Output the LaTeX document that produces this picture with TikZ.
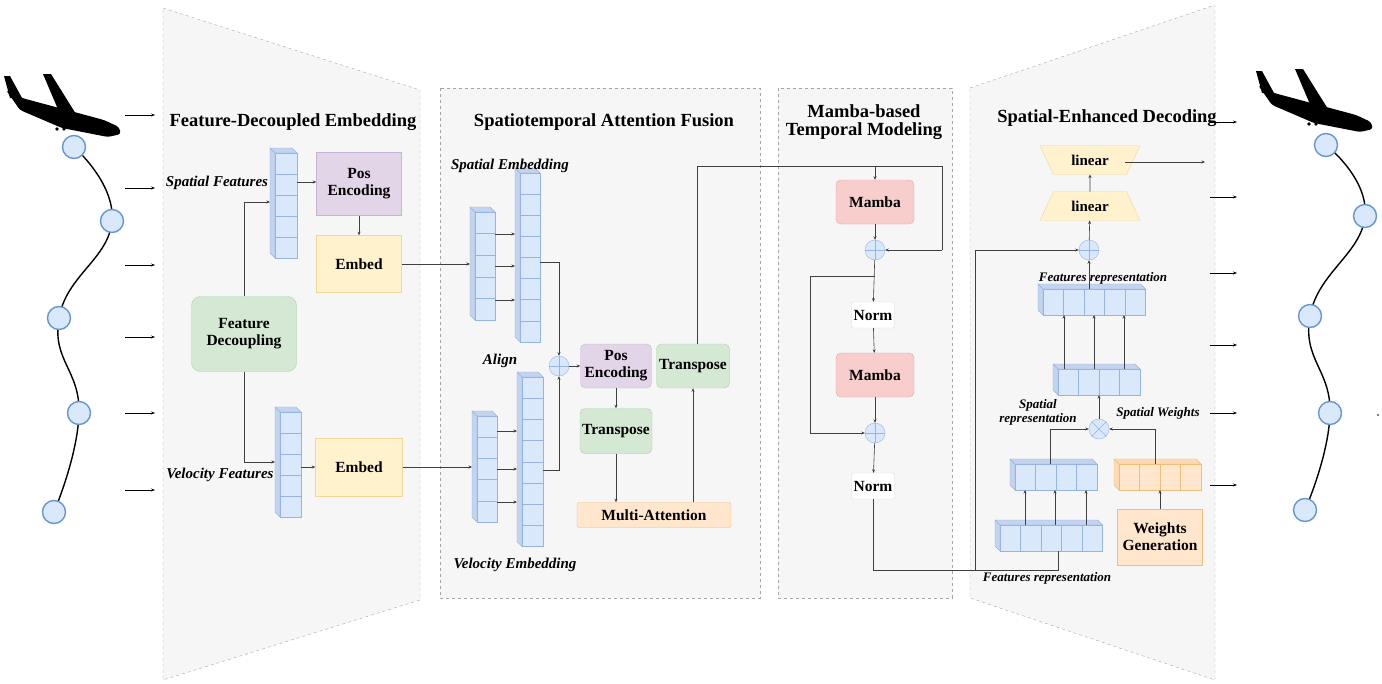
\documentclass[tikz,border=0pt]{standalone}
\usepackage{fontspec}
\setmainfont{Liberation Serif}
\usetikzlibrary{arrows.meta,shapes.geometric}

\definecolor{cellblue}{RGB}{218,232,252}
\definecolor{cellline}{RGB}{150,180,225}
\definecolor{sideblue}{RGB}{195,212,238}
\definecolor{ptline}{RGB}{100,150,210}
\definecolor{boxgreen}{RGB}{213,232,212}
\definecolor{greenline}{RGB}{170,210,160}
\definecolor{boxyellow}{RGB}{255,242,204}
\definecolor{yellowline}{RGB}{240,215,150}
\definecolor{boxpurple}{RGB}{225,213,231}
\definecolor{purpleline}{RGB}{200,180,215}
\definecolor{boxred}{RGB}{248,206,204}
\definecolor{redline}{RGB}{230,160,160}
\definecolor{boxorange}{RGB}{255,230,204}
\definecolor{orangeline}{RGB}{240,190,120}

\begin{document}
\begin{tikzpicture}[x=1pt,y=-1pt]

% Styles for the panels, the boxes and the labels
\tikzstyle{panel}=[draw=gray!70, dashed, fill=gray!7]
\tikzstyle{box}=[draw, font=\fontsize{15.5}{17}\selectfont\bfseries, align=center, inner sep=1pt]
\tikzstyle{title}=[font=\fontsize{18.5}{19}\selectfont\bfseries, align=center]
\tikzstyle{lab}=[font=\fontsize{15}{15}\selectfont\bfseries\itshape, align=center]
\tikzstyle{purplebox}=[box, fill=boxpurple, draw=purpleline]
\tikzstyle{yellowbox}=[box, fill=boxyellow, draw=yellowline]
\tikzstyle{greenbox}=[box, fill=boxgreen, draw=greenline, rounded corners=5pt]
\tikzstyle{redbox}=[box, fill=boxred, draw=redline, rounded corners=5pt]
\tikzstyle{normbox}=[box, fill=white, draw=gray!30, rounded corners=2pt]
\tikzstyle{orangebox}=[box, fill=boxorange, draw=orangeline]
\tikzstyle{cell}=[fill=cellblue, draw=cellline]
\tikzstyle{cellside}=[fill=sideblue, draw=cellline]
\tikzstyle{ocell}=[fill=boxorange, draw=orangeline]
\tikzstyle{ocellside}=[fill=orange!30, draw=orangeline]
\tikzstyle{sum}=[circle, minimum size=20pt, inner sep=0pt, fill=cellblue, draw=cellline]
\tikzstyle{point}=[circle, minimum size=23pt, inner sep=0pt, fill=cellblue, draw=ptline, line width=1.4pt]
\tikzstyle{link}=[draw=black!75, line width=0.6pt, -{Stealth[length=3.5pt,width=3pt]}]
\tikzstyle{plain}=[draw=black!75, line width=0.6pt]

\useasboundingbox (0,0) rectangle (1382,683);

% A vertical stack of cells with a side face on the left
% #1, #2 = x, y of the top left corner of the front face
% #3 = number of cells, #4 = height of one cell, #5 = width
\newcommand{\vstack}[5]{
\draw[cellside] (#1,#2) -- ++(-5,-5) -- ++(0,#3*#4) -- ++(5,5) -- cycle;
\draw[cellside] (#1,#2) -- ++(-5,-5) -- ++(#5,0) -- ++(5,5) -- cycle;
\foreach \i in {1,...,#3}
  \draw[cell] (#1,#2+\i*#4-#4) rectangle ++(#5,#4);
}

% A horizontal stack of cells with a side face on the left
% #1, #2 = x, y of the top left corner, #3 = number of cells
% #4 = width of one cell, #5 = height, #6 / #7 = cell and side styles
\newcommand{\hstack}[7]{
\draw[#7] (#1,#2) -- ++(-5,-5) -- ++(0,#5) -- ++(5,5) -- cycle;
\draw[#7] (#1,#2) -- ++(-5,-5) -- ++(#3*#4,0) -- ++(5,5) -- cycle;
\foreach \i in {1,...,#3}
  \draw[#6] (#1+\i*#4-#4,#2) rectangle ++(#4,#5);
}

% A plane silhouette, #1 = shift
\newcommand{\plane}[1]{
\begin{scope}[shift={#1}]
\fill[rounded corners=3pt] (6,90) -- (22,98) -- (104,120) -- (119,127) -- (121,134) -- (108,137) -- (62,128) -- (20,110) -- cycle;
\fill (43,74) -- (51,74) -- (76,114) -- (60,114) -- cycle;
\fill (4,76) -- (10,76) -- (22,98) -- (10,98) -- cycle;
\fill (57,129) circle (1.8) (64,129) circle (1.8);
\end{scope}
}

% Panels
\draw[panel] (163,8) -- (420,90) -- (420,600) -- (163,680) -- cycle;
\draw[panel] (440,88) rectangle (760,598);
\draw[panel] (778,88) rectangle (952,598);
\draw[panel] (970,88) -- (1215,5) -- (1215,680) -- (970,598) -- cycle;

\node[title] (t1) at (293,122) {Feature-Decoupled Embedding};
\node[title] (t2) at (604,122) {Spatiotemporal Attention Fusion};
\node[title] (t3) at (864,122) {Mamba-based\\[-1pt]Temporal Modeling};
\node[title] (t4) at (1107,118) {Spatial-Enhanced Decoding};

% Input trajectory
\plane{(0,0)}
\draw[line width=1.4pt] plot[smooth, tension=0.8] coordinates {(74,147) (112,221) (59,318) (79,413) (54,512)};
\foreach \p/\x/\y in {1/74/147, 2/112/221, 3/59/318, 4/79/413, 5/54/512}
  \node[point] (in\p) at (\x,\y) {};
\foreach \y in {115,188,265,337,413,490}
  \draw[line width=0.7pt, -{Stealth[length=4pt]}] (125,\y) -- (155,\y);

% Output trajectory
\plane{(1252,-5)}
\draw[line width=1.4pt] plot[smooth, tension=0.8] coordinates {(1326,145) (1365,216) (1310,316) (1330,413) (1305,510)};
\foreach \p/\x/\y in {1/1326/145, 2/1365/216, 3/1310/316, 4/1330/413, 5/1305/510}
  \node[point] (out\p) at (\x,\y) {};
\foreach \y in {122,197,273,345,413,485}
  \draw[line width=0.7pt, -{Stealth[length=4pt]}] (1210,\y) -- (1237,\y);
\fill (1378,415) circle (0.8);

% Feature-Decoupled Embedding
\vstack{275}{153}{5}{21}{22}
\vstack{280}{412}{5}{21}{21}
\coordinate (sf) at (270,202);
\coordinate (vf) at (275,462);
\node[lab] (sflab) at (217,183) {Spatial Features};
\node[lab] (vflab) at (220,475) {Velocity Features};
\node[greenbox, minimum width=105pt, minimum height=75pt, rounded corners=9pt] (fd) at (244,334) {Feature\\Decoupling};
\node[purplebox, minimum width=85pt, minimum height=63pt] (pe1) at (359,184) {Pos\\Encoding};
\node[yellowbox, minimum width=85pt, minimum height=57pt] (emb1) at (359,264) {Embed};
\node[yellowbox, minimum width=87pt, minimum height=58pt] (emb2) at (359,467) {Embed};
\draw[link] (fd.north) |- (sf);
\draw[link] (fd.south) |- (vf);
\draw[link] (297,182) -- (pe1.west |- 0,182);
\draw[link] (pe1) -- (emb1);
\draw[link] (301,467) -- (emb2);

% Spatiotemporal Attention Fusion
\vstack{475}{212}{5}{21.6}{20}
\vstack{520}{173}{8}{21.1}{20}
\vstack{477}{416}{5}{21.2}{20}
\vstack{522}{377}{8}{21.2}{21}
\node[lab] (selab) at (510,166) {Spatial Embedding};
\node[lab] (alab) at (500,361) {Align};
\node[lab] (velab) at (515,565) {Velocity Embedding};
\draw[link] (emb1.east) -- (470,264);
\draw[link] (emb2.east) -- (472,467);
\foreach \y in {234,266,300} \draw[link] (495,\y) -- (515,\y);
\foreach \y in {431,469,502} \draw[link] (497,\y) -- (517,\y);
\node[sum] (s0) at (559,366) {};
\draw[cellline] (s0.north) -- (s0.south) (s0.west) -- (s0.east);
\draw[link] (540,262) -| (s0.north);
\draw[link] (543,470) -| (s0.south);
\node[purplebox, rounded corners=5pt, minimum width=71pt, minimum height=44pt] (pe2) at (616,366) {Pos\\Encoding};
\node[greenbox, minimum width=72pt, minimum height=45pt] (tr1) at (616,431) {Transpose};
\node[greenbox, minimum width=73pt, minimum height=44pt] (tr2) at (693,366) {Transpose};
\node[orangebox, rounded corners=2pt, minimum width=154pt, minimum height=25pt] (ma) at (654,515) {Multi-Attention};
\draw[link] (s0) -- (pe2);
\draw[link] (pe2) -- (tr1);
\draw[link] (tr1) -- (tr1.south |- ma.north);
\draw[link] (tr2.south |- ma.north) -- (tr2);

% Mamba-based Temporal Modeling
\node[redbox, minimum width=78pt, minimum height=44pt] (mb1) at (875,202) {Mamba};
\node[sum] (s1) at (875,250) {};
\node[normbox, minimum width=43pt, minimum height=26pt] (n1) at (873,315) {Norm};
\node[redbox, minimum width=78pt, minimum height=44pt] (mb2) at (875,375) {Mamba};
\node[sum] (s2) at (875,433) {};
\node[normbox, minimum width=43pt, minimum height=26pt] (n2) at (873,486) {Norm};
\draw[cellline] (s1.north) -- (s1.south) (s1.west) -- (s1.east);
\draw[cellline] (s2.north) -- (s2.south) (s2.west) -- (s2.east);
\coordinate (top) at (875,166);
\draw[plain] (tr2.north -| 697,0) |- (942,166) |- (942,250);
\draw[link] (942,250) -- (s1.east);
\draw[link] (top) -- (mb1);
\draw[link] (mb1) -- (s1);
\draw[link] (s1) -- (n1);
\draw[link] (n1) -- (mb2);
\draw[link] (mb2) -- (s2);
\draw[link] (s2) -- (n2);
\draw[link] (875,276) -| (810,433) -- (s2.west);

% Spatial-Enhanced Decoding
\node[trapezium, trapezium angle=-65, draw=yellowline, fill=boxyellow, minimum width=100pt, minimum height=28pt, font=\fontsize{15}{16}\selectfont\bfseries] (lin1) at (1090,160) {linear};
\node[trapezium, trapezium angle=65, draw=yellowline, fill=boxyellow, minimum width=100pt, minimum height=28pt, font=\fontsize{15}{16}\selectfont\bfseries] (lin2) at (1090,206) {linear};
\node[sum] (s3) at (1089,250) {};
\draw[cellline] (s3.north) -- (s3.south) (s3.west) -- (s3.east);
\draw[link] (lin2) -- (lin1);
\draw[link] (s3) -- (lin2);
\draw[link] (1125,162) -- (1205,162);

\hstack{1043}{289}{5}{20.5}{26}{cell}{cellside}
\hstack{1058}{369}{4}{20.5}{26}{cell}{cellside}
\hstack{1015}{464}{4}{20.5}{26}{cell}{cellside}
\hstack{1119}{464}{4}{20.5}{26}{ocell}{ocellside}
\hstack{1000}{525}{5}{20.5}{26}{cell}{cellside}
\node[lab, font=\fontsize{13}{13}\selectfont\bfseries\itshape] (fr1) at (1103,278) {Features representation};
\node[lab, font=\fontsize{13}{14}\selectfont\bfseries\itshape] (srlab) at (1038,412) {Spatial\\representation};
\node[lab, font=\fontsize{13}{13}\selectfont\bfseries\itshape] (swlab) at (1158,413) {Spatial Weights};
\node[lab, font=\fontsize{13}{13}\selectfont\bfseries\itshape] (fr2) at (1047,578) {Features representation};
\node[orangebox, minimum width=85pt, minimum height=56pt] (wg) at (1160,537) {Weights\\Generation};
\node[sum] (s4) at (1099,429) {};
\draw[cellline] (s4.north west) -- (s4.south east) (s4.north east) -- (s4.south west);

\draw[link] (1089,289) -- (s3.south);
\foreach \x in {1064,1094,1124} \draw[link] (\x,369) -- (\x,315);
\draw[link] (s4) -- (1099,395);
\draw[link] (1050,464) |- (s4.west);
\draw[link] (1155,464) |- (s4.east);
\foreach \x in {1025,1055,1086} \draw[link] (\x,525) -- (\x,490);
\draw[link] (wg) -- (1160,490);
\draw[plain] (n2) |- (1058,570) -- (1058,551);
\draw[link] (975,570) |- (s3.west);

\end{tikzpicture}
\end{document}
